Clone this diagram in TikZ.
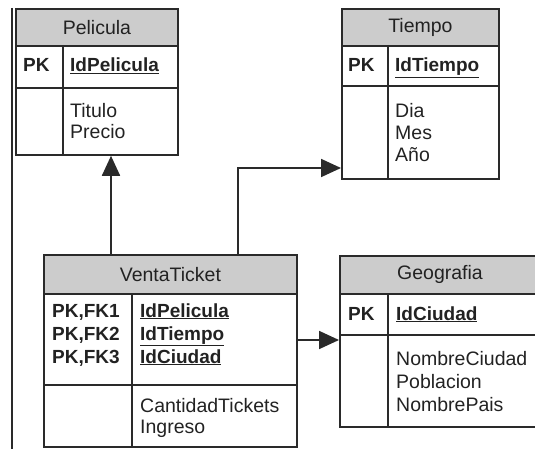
\documentclass[tikz,border=0pt]{standalone}
\usepackage{fontspec}
\setmainfont{Liberation Sans}
\usetikzlibrary{arrows.meta}
\definecolor{linec}{HTML}{2A2A2A}
\definecolor{hdrfill}{HTML}{CCCCCC}
\definecolor{textc}{HTML}{222222}
\begin{document}
\begin{tikzpicture}[x=1pt,y=-1pt,
  box/.style={draw=linec, line width=1.8pt, inner sep=0pt, anchor=north west},
  hdr/.style={box, fill=hdrfill},
  txt/.style={anchor=base west, inner sep=0pt, font=\fontsize{19.5}{22}\selectfont, text=textc},
  ktxt/.style={txt, font=\fontsize{19}{22}\selectfont\bfseries},
  htxt/.style={inner sep=0pt, font=\fontsize{19.5}{22}\selectfont, text=textc},
  sep/.style={draw=linec, line width=1.8pt},
  conn/.style={draw=linec, line width=1.8pt, -{Triangle[length=20pt,width=18pt]}}]
\useasboundingbox (0,0) rectangle (535,449);
\clip (0,0) rectangle (535,449);

% left margin line
\coordinate (lt) at (12,8);
\coordinate (lb) at (12,449);
\draw[sep] (lt) -- (lb);

% ---------- Pelicula ----------
\node[hdr, minimum width=162pt, minimum height=37pt] (pelh) at (15,8) {};
\node[box, minimum width=162pt, minimum height=42pt] (pelk) at (15,45) {};
\node[box, minimum width=162pt, minimum height=67pt] (pela) at (15,87) {};
\coordinate (peld) at (63,45);
\draw[sep] (pelk.north -| peld) -- (pela.south -| peld);
\node[htxt] (pelt) at (pelh.center) {Pelicula};
\node[ktxt] (pelpk) at (23,72) {PK};
\node[ktxt] (pelid) at (70,72) {\underline{IdPelicula}};
\node[txt] (pel1) at (70,118) {Titulo};
\node[txt] (pel2) at (70,139) {Precio};

% ---------- Tiempo ----------
\node[hdr, minimum width=157pt, minimum height=37pt] (tih) at (341,8) {};
\node[box, minimum width=157pt, minimum height=40pt] (tik) at (341,45) {};
\node[box, minimum width=157pt, minimum height=93pt] (tia) at (341,85) {};
\coordinate (tid) at (388,45);
\draw[sep] (tik.north -| tid) -- (tia.south -| tid);
\node[htxt] (tit) at (tih.center) {Tiempo};
\node[ktxt] (tipk) at (348,72) {PK};
\node[ktxt] (tiid) at (395,72) {\underline{IdTiempo}};
\node[txt] (ti1) at (395,118) {Dia};
\node[txt] (ti2) at (395,140) {Mes};
\node[txt] (ti3) at (395,162) {Año};

% ---------- VentaTicket ----------
\node[hdr, minimum width=253pt, minimum height=39pt] (vth) at (43,254) {};
\node[box, minimum width=253pt, minimum height=91pt] (vtk) at (43,293) {};
\node[box, minimum width=253pt, minimum height=62pt] (vta) at (43,384) {};
\coordinate (vtd) at (132,293);
\draw[sep] (vtk.north -| vtd) -- (vta.south -| vtd);
\node[htxt] (vtt) at (vth.center) {VentaTicket};
\node[ktxt] (vtk1) at (52,317) {PK,FK1};
\node[ktxt] (vtk2) at (52,340) {PK,FK2};
\node[ktxt] (vtk3) at (52,363) {PK,FK3};
\node[ktxt] (vti1) at (140,317) {\underline{IdPelicula}};
\node[ktxt] (vti2) at (140,340) {\underline{IdTiempo}};
\node[ktxt] (vti3) at (140,363) {\underline{IdCiudad}};
\node[txt] (vt1) at (140,412) {CantidadTickets};
\node[txt] (vt2) at (140,433) {Ingreso};

% ---------- Geografia ----------
\node[hdr, minimum width=206pt, minimum height=38pt] (geh) at (339,255) {};
\node[box, minimum width=206pt, minimum height=41pt] (gek) at (339,293) {};
\node[box, minimum width=206pt, minimum height=92pt] (gea) at (339,334) {};
\coordinate (ged) at (388,293);
\draw[sep] (gek.north -| ged) -- (gea.south -| ged);
\node[htxt] (get) at (440,274) {Geografia};
\node[ktxt] (gepk) at (348,320) {PK};
\node[ktxt] (geid) at (396,320) {\underline{IdCiudad}};
\node[txt] (ge1) at (396,365) {NombreCiudad};
\node[txt] (ge2) at (396,388) {Poblacion};
\node[txt] (ge3) at (396,411) {NombrePais};

% ---------- connectors ----------
\coordinate (c1) at (111,200);
\coordinate (c2) at (238,168);
\coordinate (c3) at (300,340);
\draw[conn] (vth.north -| c1) -- (pela.south -| c1);
\draw[conn] (vth.north -| c2) -- (c2) -- (tia.west |- c2);
\draw[conn] (vtk.east |- c3) -- (gea.west |- c3);
\end{tikzpicture}
\end{document}
